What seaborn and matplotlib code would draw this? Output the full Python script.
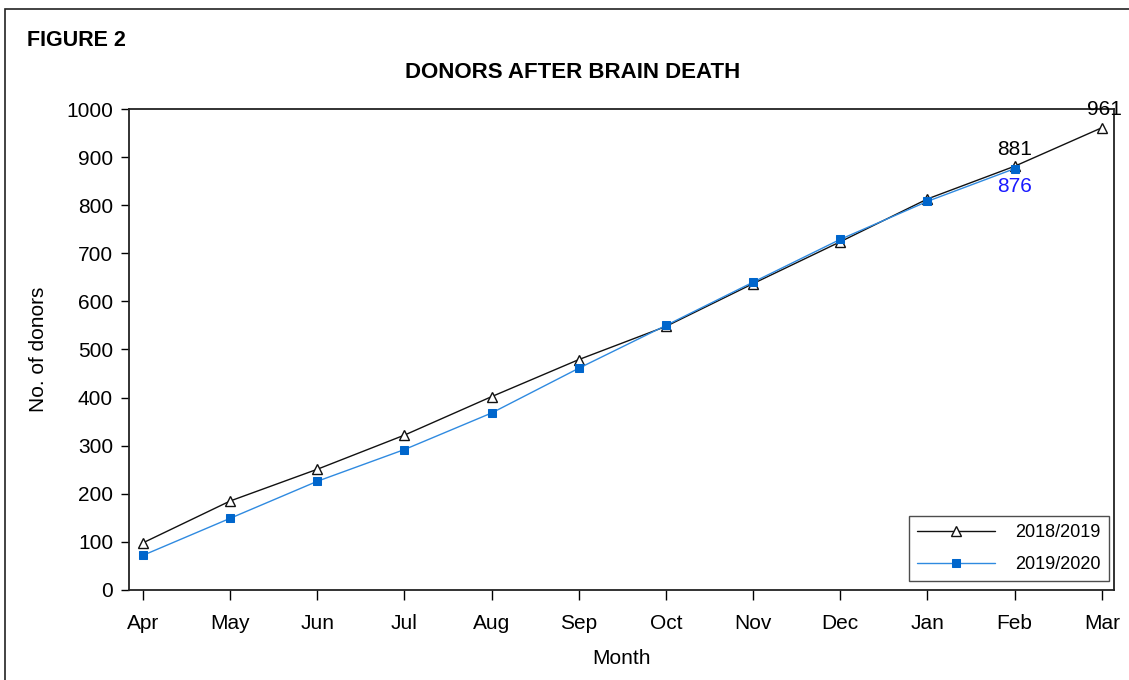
import pandas as pd
import matplotlib.pyplot as plt
import seaborn as sns
from matplotlib.patches import Rectangle

sns.set_style("ticks")
plt.rcParams['font.family'] = ['Liberation Sans', 'DejaVu Sans']
plt.rcParams['text.color'] = 'black'
plt.rcParams['axes.labelcolor'] = 'black'

# Dados
meses = ["Apr", "May", "Jun", "Jul", "Aug", "Sep", "Oct", "Nov", "Dec", "Jan", "Feb", "Mar"]
doadores_1819 = [98, 185, 251, 322, 402, 479, 548, 637, 724, 813, 881, 961]
doadores_1920 = [72, 149, 226, 292, 368, 461, 550, 640, 729, 808, 876]

df = pd.DataFrame({
    "pos": list(range(len(meses))) + list(range(len(doadores_1920))),
    "valor": doadores_1819 + doadores_1920,
    "serie": ["2018/2019"] * len(doadores_1819) + ["2019/2020"] * len(doadores_1920),
})

fig = plt.figure(figsize=(11.29, 6.8), dpi=100)
ax = fig.add_axes([0.1143, 0.1324, 0.8724, 0.7073])

# moldura da figura (recortada à direita e embaixo)
fig.patches.append(Rectangle((0.0045, -0.1), 1.2, 1.087, transform=fig.transFigure,
                             fill=False, edgecolor="#222222", linewidth=1.2))

sns.lineplot(data=df[df.serie == "2018/2019"], x="pos", y="valor", ax=ax,
             color="#111111", linewidth=1.0, marker="^", markersize=7,
             markerfacecolor="white", markeredgecolor="#111111", markeredgewidth=1.0,
             label="2018/2019")
sns.lineplot(data=df[df.serie == "2019/2020"], x="pos", y="valor", ax=ax,
             color="#2f8ae0", linewidth=1.0, marker="s", markersize=5.3,
             markerfacecolor="#0066cc", markeredgecolor="#0066cc",
             label="2019/2020")

# rótulos dos valores finais
ax.annotate(str(doadores_1819[-1]), (11, doadores_1819[-1]), xytext=(2, 6),
            textcoords="offset points", ha="center", va="bottom", fontsize=15, color="black",
            annotation_clip=False)
ax.annotate(str(doadores_1819[-2]), (10, doadores_1819[-2]), xytext=(0, 5),
            textcoords="offset points", ha="center", va="bottom", fontsize=15, color="black")
ax.annotate(str(doadores_1920[-1]), (10, doadores_1920[-1]), xytext=(0, -6),
            textcoords="offset points", ha="center", va="top", fontsize=15, color="#1a1aff")

ax.set_xlim(-0.16, 11.14)
ax.set_ylim(0, 1000)
ax.set_xticks(range(len(meses)))
ax.set_xticklabels(meses)
ax.set_yticks(range(0, 1001, 100))
ax.tick_params(axis="x", length=7.5, width=1.0, pad=10, labelsize=15, colors="black")
ax.tick_params(axis="y", length=5.5, width=1.0, pad=6, labelsize=15, colors="black")
for s in ax.spines.values():
    s.set_visible(True)
    s.set_linewidth(1.3)
    s.set_color("#222222")

ax.set_xlabel("Month", fontsize=15, labelpad=11, color="black")
ax.set_ylabel("No. of donors", fontsize=15, labelpad=13, color="black")
ax.grid(False)

fig.text(0.0235, 0.94, "FIGURE 2", fontsize=15.5, fontweight="bold", ha="left", va="center")
fig.text(0.507, 0.894, "DONORS AFTER BRAIN DEATH", fontsize=16, fontweight="bold",
         ha="center", va="center")

leg = ax.legend(loc="lower right", bbox_to_anchor=(0.9945, 0.018), fontsize=13,
                frameon=True, fancybox=False, edgecolor="#222222", borderpad=0.45,
                handlelength=4.3, labelspacing=0.85, handletextpad=1.1, borderaxespad=0)
leg.get_frame().set_linewidth(1.0)
for t in leg.get_texts():
    t.set_color("black")

plt.savefig("out.png", dpi=100)
